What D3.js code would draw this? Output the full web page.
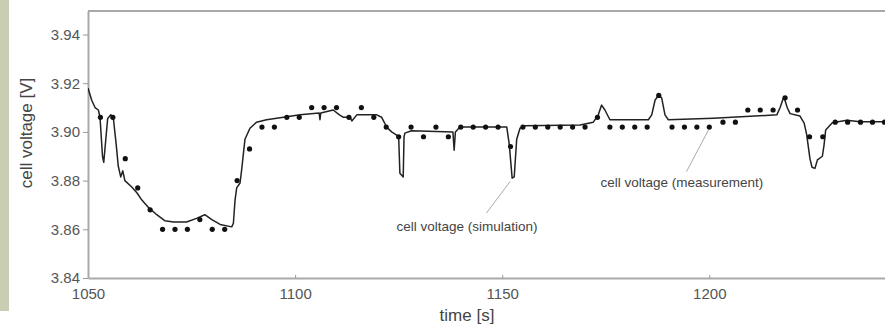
<!DOCTYPE html>
<html>
<head>
<meta charset="utf-8">
<script src="https://cdn.jsdelivr.net/npm/d3@7"></script>
<style>
  html, body { margin: 0; padding: 0; background: #fff; }
  svg { display: block; font-family: "Liberation Sans", Arial, sans-serif; }
</style>
</head>
<body>
<svg id="chart"></svg>
<script>
// simulation (solid line)
const simTime = [1050.0, 1050.9, 1051.7, 1052.5, 1052.9, 1053.5, 1053.8, 1054.3, 1054.75, 1055.5,
  1056.1, 1056.8, 1057.3, 1057.9, 1058.4, 1058.9, 1060.5, 1061.8, 1063.0, 1064.6,
  1066.6, 1068.6, 1070.6, 1073.8, 1076.2, 1078.2, 1079.9, 1081.9, 1084.7, 1085.1,
  1085.5, 1085.9, 1086.7, 1087.1, 1087.9, 1089.1, 1090.7, 1093.1, 1097.2, 1101.2,
  1105.8, 1106.0, 1106.2, 1109.2, 1110.7, 1111.7, 1113.3, 1113.7, 1114.9, 1119.7,
  1120.9, 1122.1, 1123.3, 1124.7, 1125.0, 1125.3, 1126.1, 1126.3, 1126.5, 1128.1,
  1138.1, 1138.4, 1138.7, 1139.8, 1151.1, 1151.7, 1152.4, 1152.9, 1153.5, 1154.3,
  1155.5, 1168.8, 1172.0, 1173.2, 1174.0, 1174.8, 1176.0, 1185.3, 1186.1, 1186.9,
  1187.7, 1188.5, 1189.3, 1190.1, 1201.0, 1216.3, 1217.1, 1218.0, 1218.8, 1219.5,
  1221.9, 1222.9, 1223.5, 1224.3, 1224.8, 1225.5, 1226.1, 1227.3, 1227.7, 1228.1,
  1229.7, 1233.2, 1236.4, 1243.0];
const simVolt = [3.918, 3.913, 3.910, 3.909, 3.906, 3.890, 3.8875, 3.897, 3.9055, 3.907,
  3.906, 3.895, 3.886, 3.8815, 3.884, 3.880, 3.8775, 3.875, 3.872, 3.869,
  3.866, 3.8635, 3.863, 3.863, 3.8645, 3.866, 3.864, 3.862, 3.861, 3.8625,
  3.872, 3.877, 3.879, 3.8845, 3.897, 3.9015, 3.904, 3.905, 3.906, 3.907,
  3.9078, 3.905, 3.9078, 3.909, 3.907, 3.906, 3.906, 3.9045, 3.907, 3.907,
  3.906, 3.902, 3.900, 3.8985, 3.898, 3.883, 3.8815, 3.898, 3.8995, 3.9005,
  3.900, 3.8925, 3.900, 3.902, 3.902, 3.895, 3.881, 3.8815, 3.897, 3.9015,
  3.9025, 3.9028, 3.904, 3.907, 3.911, 3.909, 3.905, 3.905, 3.907, 3.913,
  3.915, 3.914, 3.907, 3.905, 3.9056, 3.907, 3.910, 3.9145, 3.910, 3.9075,
  3.9065, 3.9036, 3.899, 3.889, 3.8855, 3.885, 3.8885, 3.890, 3.8946, 3.9008,
  3.9038, 3.9048, 3.9042, 3.9042];

// measurement (dots)
const measTime = [1053, 1056, 1059, 1062, 1065, 1068, 1071, 1074, 1077, 1080,
  1083, 1086, 1089, 1092, 1095, 1098, 1101, 1104, 1107, 1110,
  1113, 1116, 1119, 1122, 1125, 1128, 1131, 1134, 1137, 1140,
  1143, 1146, 1149, 1152, 1155, 1158, 1161, 1164, 1167, 1170,
  1173, 1176, 1179, 1182, 1185, 1187.8, 1191, 1194, 1197, 1200,
  1203.3, 1206.3, 1209.3, 1212.3, 1215.4, 1218.3, 1221.3, 1224.2, 1227.4, 1230.4,
  1233.4, 1236.5, 1239.4, 1242.3];
const measVolt = [3.906, 3.906, 3.889, 3.877, 3.868, 3.860, 3.860, 3.860, 3.864, 3.860,
  3.860, 3.880, 3.893, 3.902, 3.902, 3.906, 3.906, 3.910, 3.910, 3.910,
  3.906, 3.910, 3.906, 3.902, 3.898, 3.902, 3.898, 3.902, 3.898, 3.902,
  3.902, 3.902, 3.902, 3.894, 3.902, 3.902, 3.902, 3.902, 3.902, 3.902,
  3.906, 3.902, 3.902, 3.902, 3.902, 3.915, 3.902, 3.902, 3.902, 3.902,
  3.904, 3.904, 3.909, 3.909, 3.909, 3.914, 3.909, 3.898, 3.898, 3.904,
  3.904, 3.904, 3.904, 3.904];

const xTicks = [1050, 1100, 1150, 1200];
const yTicks = [3.84, 3.86, 3.88, 3.90, 3.92, 3.94];

// labels with leader lines: [label x, label y, line start, line end]
const noteText = ["cell voltage (simulation)", "cell voltage (measurement)"];
const noteAt = [[1141.5, 3.8595], [1193.4, 3.8775]];
const noteFrom = [[1146.2, 3.8667], [1194.5, 3.8837]];
const noteTo = [[1151.9, 3.8796], [1199.8, 3.9008]];

class VoltageChart {
  margin = { top: 11, right: 0, bottom: 48, left: 88 };

  constructor(svg, width = 885, height = 326) {
    this.svg = d3.select(svg);
    this.width = width;
    this.height = height;
  }

  draw() {
    const m = this.margin;
    const w = this.width - m.left - m.right;
    const h = this.height - m.top - m.bottom;
    this.svg.attr("width", this.width).attr("height", this.height);

    // greenish strip on the left
    this.svg.append("rect")
      .attr("x", 0).attr("y", 0)
      .attr("width", 9).attr("height", 311)
      .attr("fill", "#c9cdb2");

    const x = d3.scaleLinear().domain([1050, 1050 + w / 4.142]).range([m.left, m.left + w]);
    const y = d3.scaleLinear().domain([3.84, 3.84 + h / 2435]).range([m.top + h, m.top]);

    // frame top
    this.svg.append("line")
      .attr("x1", m.left).attr("x2", m.left + w)
      .attr("y1", m.top).attr("y2", m.top)
      .attr("stroke", "#a9a9a9").attr("stroke-width", 2);

    const xAxis = this.svg.append("g")
      .attr("transform", `translate(0, ${m.top + h})`)
      .call(d3.axisBottom(x).tickValues(xTicks).tickFormat(d3.format("d")).tickSizeInner(-3).tickSizeOuter(0).tickPadding(7));
    const yAxis = this.svg.append("g")
      .attr("transform", `translate(${m.left}, 0)`)
      .call(d3.axisLeft(y).tickValues(yTicks).tickFormat(d3.format(".2f")).tickSizeInner(5).tickSizeOuter(0).tickPadding(3));

    [xAxis, yAxis].forEach((ax) => {
      ax.select(".domain").attr("stroke", "#a9a9a9").attr("stroke-width", 2);
      ax.selectAll(".tick line").attr("stroke", "#999");
      ax.selectAll("text").attr("fill", "#555").style("font-size", "15px");
    });
    xAxis.selectAll("text").attr("dy", "0.95em");

    // axis titles
    this.svg.append("text")
      .attr("x", 467).attr("y", 321)
      .attr("text-anchor", "middle")
      .attr("fill", "#444").style("font-size", "17px")
      .text("time [s]");
    this.svg.append("text")
      .attr("transform", "rotate(-90)")
      .attr("x", -133).attr("y", 32)
      .attr("text-anchor", "middle")
      .attr("fill", "#444").style("font-size", "17px")
      .text("cell voltage [V]");

    // simulation line
    const sim = simTime.map((t, i) => ({ t, v: simVolt[i] }));
    const line = d3.line().x((d) => x(d.t)).y((d) => y(d.v));
    const clip = this.svg.append("clipPath").attr("id", "plot-clip")
      .append("rect").attr("x", m.left).attr("y", m.top).attr("width", w).attr("height", h);
    this.svg.append("path")
      .datum(sim)
      .attr("clip-path", "url(#plot-clip)")
      .attr("d", line)
      .attr("fill", "none")
      .attr("stroke", "#222")
      .attr("stroke-width", 1.5)
      .attr("stroke-linejoin", "round");

    // measurement dots
    const meas = measTime.map((t, i) => ({ t, v: measVolt[i] }));
    this.svg.append("g")
      .selectAll("circle")
      .data(meas)
      .join("circle")
      .attr("cx", (d) => x(d.t))
      .attr("cy", (d) => y(d.v))
      .attr("r", 2.6)
      .attr("fill", "#111");

    // annotations
    const notes = noteText.map((text, i) => ({ text, at: noteAt[i], from: noteFrom[i], to: noteTo[i] }));
    const g = this.svg.append("g");
    g.selectAll("line")
      .data(notes)
      .join("line")
      .attr("x1", (d) => x(d.from[0])).attr("y1", (d) => y(d.from[1]))
      .attr("x2", (d) => x(d.to[0])).attr("y2", (d) => y(d.to[1]))
      .attr("stroke", "#aaa").attr("stroke-width", 1);
    g.selectAll("text")
      .data(notes)
      .join("text")
      .attr("x", (d) => x(d.at[0])).attr("y", (d) => y(d.at[1]))
      .attr("text-anchor", "middle")
      .attr("fill", "#444").style("font-size", "13.5px")
      .text((d) => d.text);
  }
}

const chart = new VoltageChart(document.getElementById("chart"));
chart.draw();
</script>
</body>
</html>
